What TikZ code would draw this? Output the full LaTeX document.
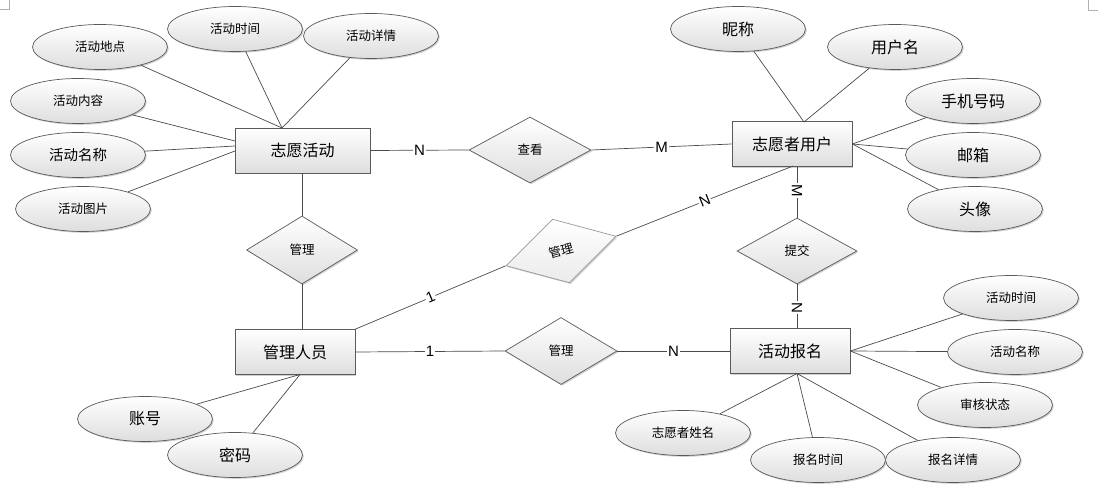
\documentclass[tikz,border=0pt]{standalone}
\usepackage{fontspec}
\setmainfont{Noto Sans CJK SC}
\newfontfamily\latinfont{Liberation Sans}
\usetikzlibrary{shapes.geometric,shadows,calc}
\definecolor{edgec}{HTML}{5A5A5A}
\definecolor{linec}{HTML}{4A4A4A}
\tikzset{
  base/.style={draw=edgec, line width=0.7pt, top color=white, bottom color=black!13,
    drop shadow={shadow xshift=1.3pt, shadow yshift=-1.3pt, opacity=0.3, fill=black!60}},
  entity/.style={base, rectangle, minimum width=#1, minimum height=45pt, inner sep=0pt,
    font=\fontsize{16}{18}\selectfont},
  attr/.style={base, ellipse, minimum width=135pt, minimum height=45pt, inner sep=0pt},
  bigf/.style={font=\fontsize{16}{18}\selectfont},
  midf/.style={font=\fontsize{14.5}{16}\selectfont},
  smallf/.style={font=\fontsize{12.5}{14}\selectfont},
  rel/.style={base, diamond, inner sep=0pt, font=\fontsize{12.5}{14}\selectfont},
  lab/.style={fill=white, inner sep=1pt, font=\latinfont\fontsize{15}{16}\selectfont},
  conn/.style={draw=linec, line width=0.7pt},
}
\begin{document}
\begin{tikzpicture}[x=1pt,y=1pt]
\useasboundingbox (0,0) rectangle (1098,501);
% corner marks
\draw[black!30, line width=0.6pt] (0,492) -- (9,492) -- (9,501);
\draw[black!30, line width=0.6pt] (1088,501) -- (1088,491) -- (1098,491);

% entities
\node[entity=135pt] (act) at (302.5,350.5) {志愿活动};
\node[entity=120pt] (user) at (792,357) {志愿者用户};
\node[entity=120pt] (admin) at (295,149) {管理人员};
\node[entity=120pt] (signup) at (790,150) {活动报名};

% relations
\node[rel, minimum width=122pt, minimum height=66pt] (view) at (530,351) {查看};
\node[rel, minimum width=111pt, minimum height=68pt] (mg1) at (302,251) {管理};
\node[rel, draw=black!40, top color=white, bottom color=black!8, minimum width=114pt, minimum height=66pt, rotate=15] (mg2) at (561,250) {管理};
\node[rel, minimum width=112pt, minimum height=67pt] (mg3) at (561,150) {管理};
\node[rel, minimum width=120pt, minimum height=66pt] (sub) at (797,250) {提交};

% attributes of 志愿活动
\node[attr, smallf] (a1) at (100,454) {活动地点};
\node[attr, smallf] (a2) at (235,472) {活动时间};
\node[attr, smallf] (a3) at (371,465) {活动详情};
\node[attr, smallf] (a4) at (78,400) {活动内容};
\node[attr, midf] (a5) at (78,346) {活动名称};
\node[attr, smallf] (a6) at (83,292) {活动图片};

% attributes of 志愿者用户
\node[attr, bigf] (u1) at (738,472) {昵称};
\node[attr, bigf] (u2) at (895,454) {用户名};
\node[attr, bigf] (u3) at (973,400) {手机号码};
\node[attr, bigf] (u4) at (973,346) {邮箱};
\node[attr, bigf] (u5) at (975,292) {头像};

% attributes of 管理人员
\node[attr, bigf] (m1) at (145,82) {账号};
\node[attr, bigf] (m2) at (235,46) {密码};

% attributes of 活动报名
\node[attr, smallf] (s1) at (1011,203) {活动时间};
\node[attr, smallf] (s2) at (1015,149) {活动名称};
\node[attr, smallf] (s3) at (985,96) {审核状态};
\node[attr, smallf] (s4) at (683,68) {志愿者姓名};
\node[attr, smallf] (s5) at (818,41) {报名时间};
\node[attr, smallf] (s6) at (953,41) {报名详情};

% helper coordinates
\coordinate (actTop) at (282,373);
\coordinate (actL1) at (235,360);
\coordinate (actL2) at (235,355);
\coordinate (actL3) at (235,350);
\coordinate (userTop) at (804,379);
\coordinate (userBotN) at (793,335);
\coordinate (adminBot) at (300,126.5);
\coordinate (signBot) at (797,127.5);

% attribute connectors
\draw[conn] (a1) -- (actTop);
\draw[conn] (a2) -- (actTop);
\draw[conn] (a3) -- (actTop);
\draw[conn] (a4) -- (actL1);
\draw[conn] (a5) -- (actL2);
\draw[conn] (a6) -- (actL3);

\draw[conn] (u1) -- (userTop);
\draw[conn] (u2) -- (userTop);
\draw[conn] (u3) -- (user.east);
\draw[conn] (u4) -- (user.east);
\draw[conn] (u5) -- (user.east);

\draw[conn] (m1) -- (adminBot);
\draw[conn] (m2) -- (adminBot);

\draw[conn] (s1) -- (signup.east);
\draw[conn] (s2) -- (signup.east);
\draw[conn] (s3) -- (signup.east);
\draw[conn] (s4) -- (signBot);
\draw[conn] (s5) -- (signBot);
\draw[conn] (s6) -- (signBot);

% relationship connectors
\draw[conn] (act.east) -- node[lab, pos=.5] {N} (view.west);
\draw[conn] (view.east) -- node[lab, pos=.5] {M} (user.west);
\draw[conn] (admin.east) -- node[lab, pos=.5] {1} (mg3.west);
\draw[conn] (mg3.east) -- node[lab, pos=.5] {N} (signup.west);
\draw[conn] (mg1.north) -- (mg1.north |- act.south);
\draw[conn] (mg1.south) -- (mg1.south |- admin.north);
\draw[conn] (sub.north |- user.south) -- node[lab, pos=.47, rotate=-90] {M} (sub.north);
\draw[conn] (sub.south) -- node[lab, pos=.53, rotate=-90] {N} (sub.south |- signup.north);
\draw[conn] (admin.north east) -- node[lab, pos=.5, sloped] {1} (mg2.west);
\draw[conn] (mg2.east) -- node[lab, pos=.5, sloped] {N} (userBotN);
\end{tikzpicture}
\end{document}
